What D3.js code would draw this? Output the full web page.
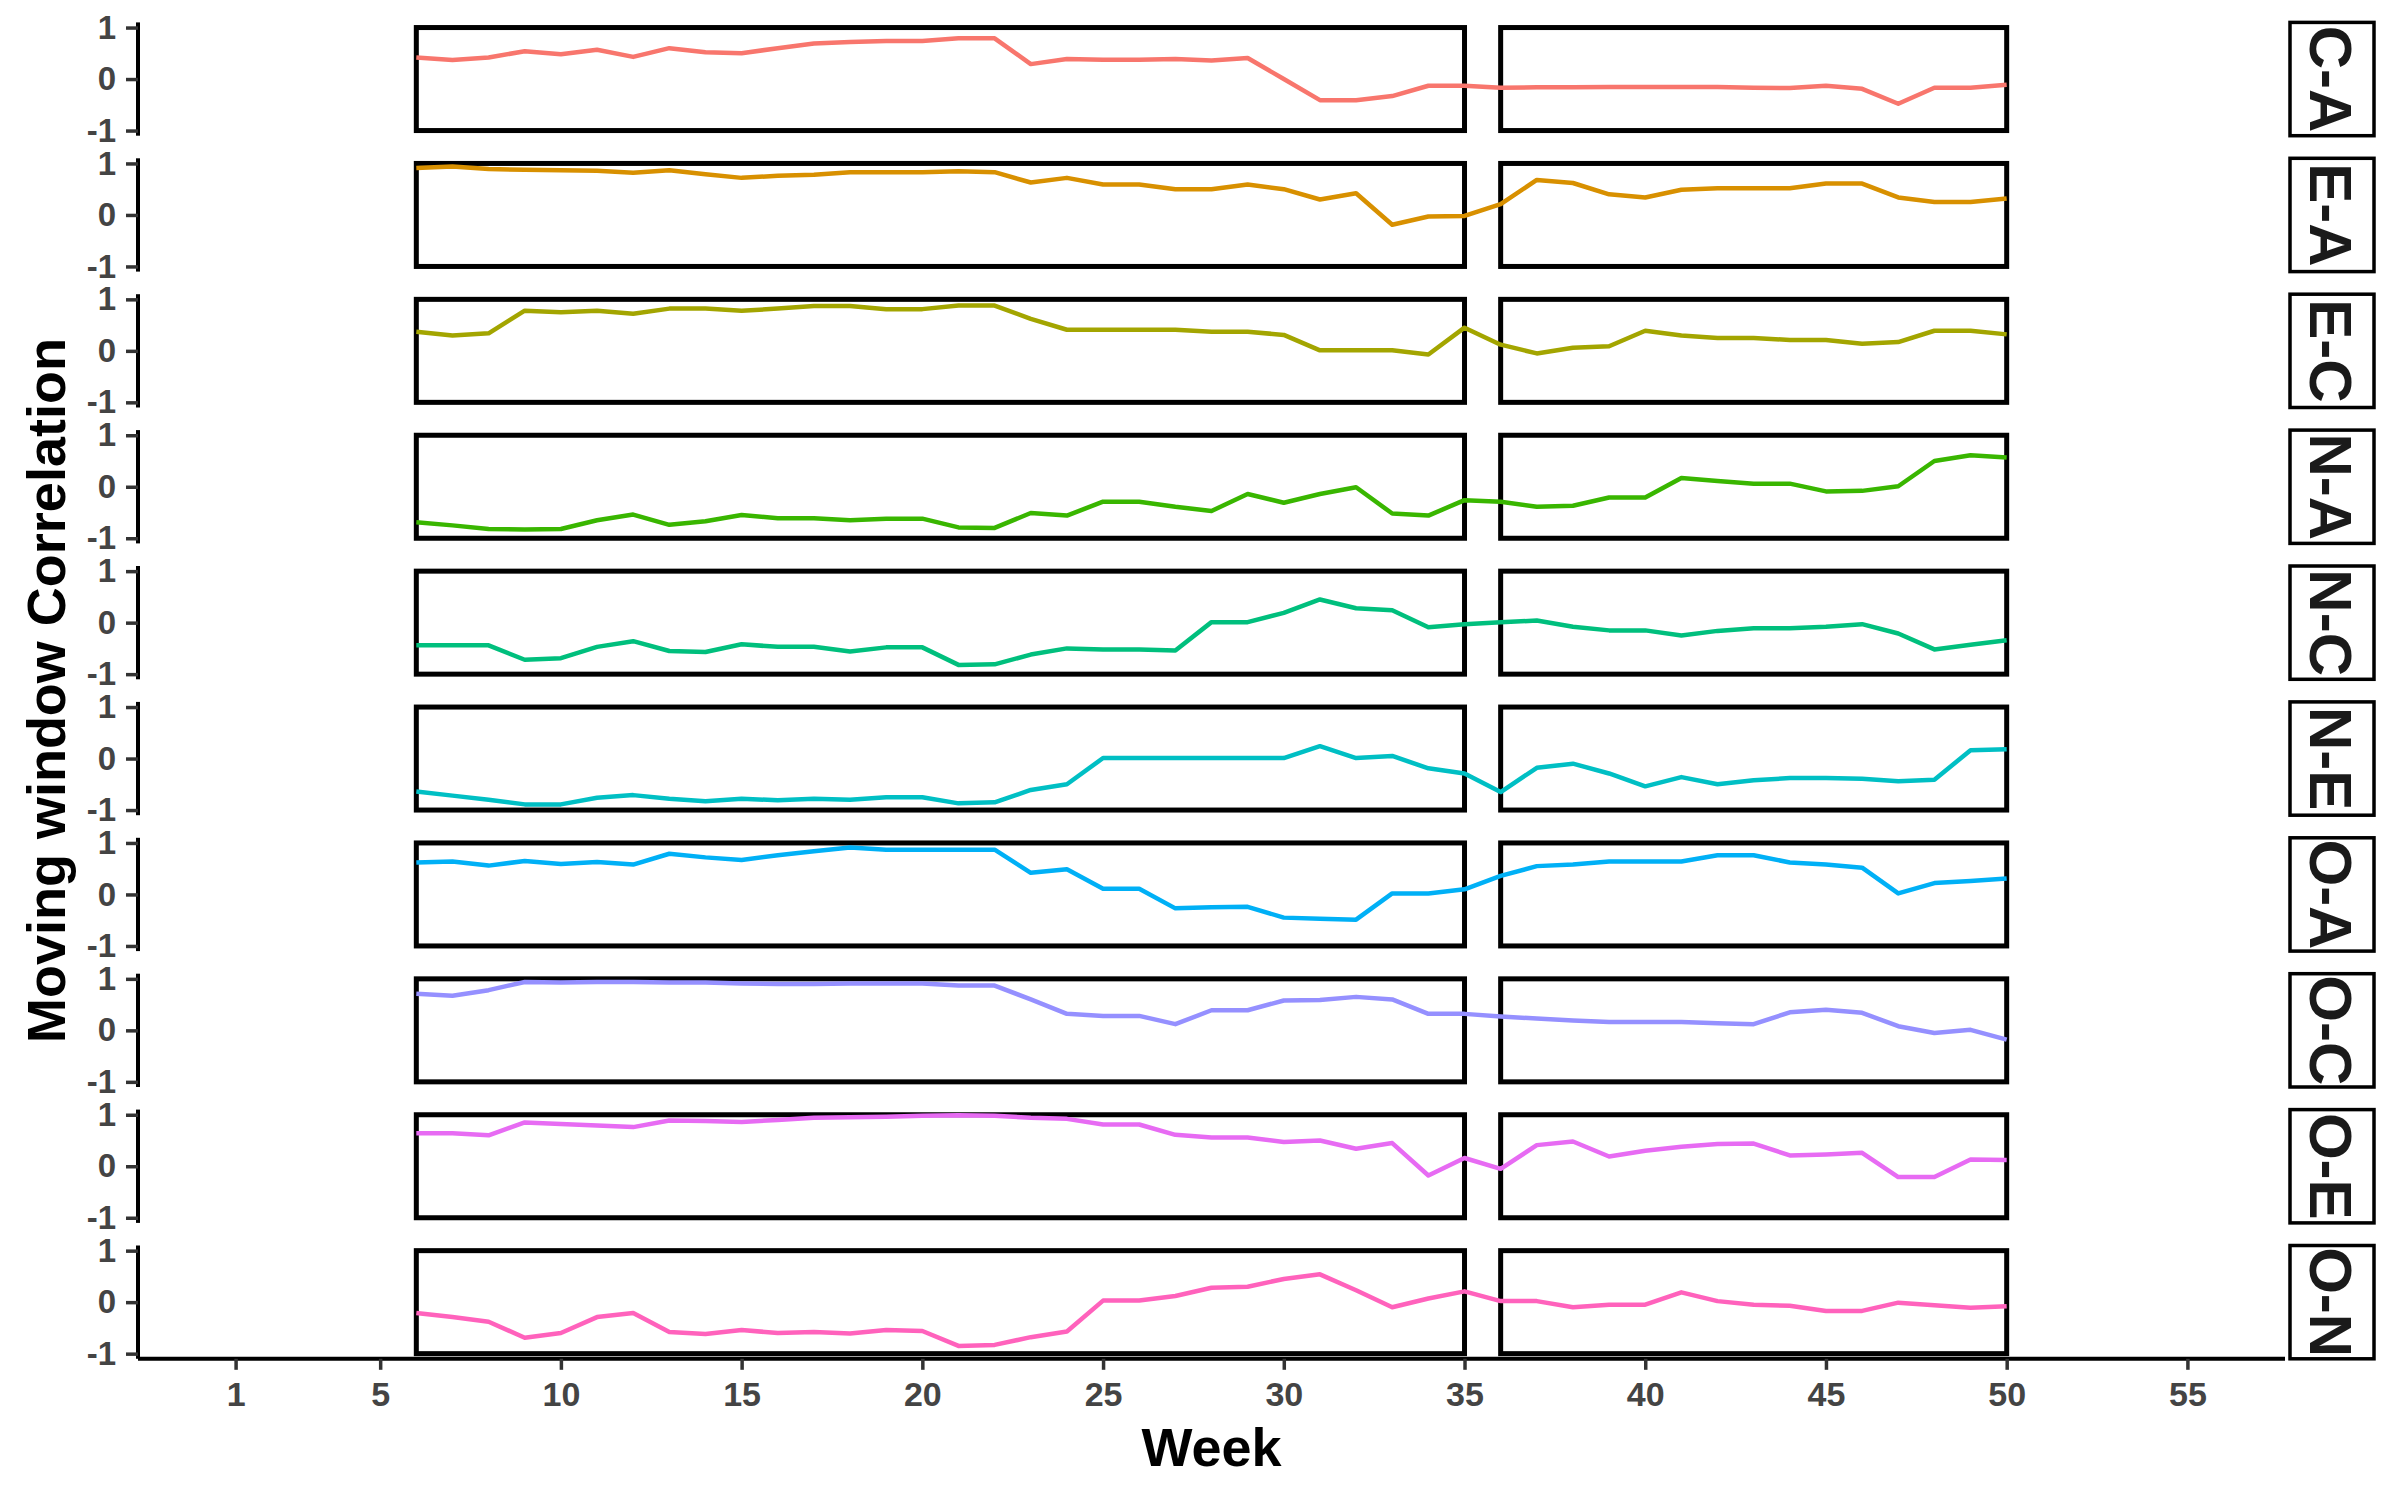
<!DOCTYPE html>
<html>
<head>
<meta charset="utf-8">
<script src="https://cdn.jsdelivr.net/npm/d3@7"></script>
<style>
  body { margin: 0; background: #fff; }
  text { font-family: "Liberation Sans", Arial, sans-serif; font-weight: bold; }
</style>
</head>
<body>
<svg id="chart"></svg>
<script>
// data
const pairs = ['C-A', 'E-A', 'E-C', 'N-A', 'N-C', 'N-E', 'O-A', 'O-C', 'O-E', 'O-N'];
const weeks = [6, 7, 8, 9, 10, 11, 12, 13, 14, 15, 16, 17, 18, 19, 20, 21, 22, 23, 24, 25, 26, 27, 28,
  29, 30, 31, 32, 33, 34, 35, 36, 37, 38, 39, 40, 41, 42, 43, 44, 45, 46, 47, 48, 49, 50];
const xBreaks = [1, 5, 10, 15, 20, 25, 30, 35, 40, 45, 50, 55];
const yBreaks = [-1, 0, 1];
const periods = [[6, 35], [36, 50]];
const colors = ['#F8766D', '#D89000', '#A3A500', '#39B600', '#00BF7D', '#00BFC4', '#00B0F6', '#9590FF', '#E76BF3', '#FF62BC'];

const corrCA = [0.42, 0.37, 0.42, 0.54, 0.48, 0.57, 0.43, 0.60, 0.52, 0.50, 0.60, 0.69, 0.72, 0.74, 0.74, 0.79, 0.79,
  0.29, 0.39, 0.375, 0.375, 0.39, 0.36, 0.41, 0.0, -0.41, -0.41, -0.33, -0.13, -0.13,
  -0.17, -0.16, -0.16, -0.155, -0.155, -0.155, -0.155, -0.17, -0.175, -0.13, -0.19, -0.48, -0.17, -0.17, -0.11];
const corrEA = [0.91, 0.94, 0.89, 0.88, 0.87, 0.86, 0.82, 0.87, 0.79, 0.72, 0.76, 0.78, 0.83, 0.83, 0.83, 0.85, 0.83,
  0.63, 0.72, 0.59, 0.59, 0.50, 0.50, 0.59, 0.50, 0.30, 0.42, -0.19, -0.03, -0.02,
  0.21, 0.68, 0.62, 0.40, 0.34, 0.49, 0.52, 0.52, 0.52, 0.61, 0.61, 0.34, 0.25, 0.25, 0.32];
const corrEC = [0.37, 0.30, 0.34, 0.78, 0.75, 0.78, 0.72, 0.82, 0.82, 0.78, 0.82, 0.87, 0.87, 0.81, 0.81, 0.88, 0.88,
  0.62, 0.41, 0.41, 0.41, 0.41, 0.37, 0.37, 0.31, 0.01, 0.01, 0.01, -0.07, 0.45,
  0.12, -0.05, 0.06, 0.09, 0.39, 0.30, 0.25, 0.25, 0.21, 0.21, 0.14, 0.17, 0.39, 0.39, 0.32];
const corrNA = [-0.69, -0.75, -0.82, -0.83, -0.82, -0.65, -0.54, -0.74, -0.67, -0.55, -0.61, -0.61, -0.65, -0.62, -0.62, -0.79, -0.80,
  -0.51, -0.56, -0.29, -0.29, -0.39, -0.47, -0.14, -0.31, -0.14, -0.01, -0.52, -0.56, -0.26,
  -0.29, -0.39, -0.37, -0.21, -0.21, 0.17, 0.11, 0.06, 0.06, -0.09, -0.08, 0.01, 0.50, 0.61, 0.57];
const corrNC = [-0.44, -0.44, -0.44, -0.72, -0.69, -0.47, -0.36, -0.55, -0.57, -0.42, -0.47, -0.47, -0.56, -0.48, -0.48, -0.82, -0.81,
  -0.62, -0.50, -0.52, -0.52, -0.54, 0.01, 0.01, 0.19, 0.45, 0.28, 0.24, -0.09, -0.03,
  0.01, 0.04, -0.08, -0.15, -0.15, -0.25, -0.16, -0.11, -0.11, -0.08, -0.03, -0.21, -0.52, -0.43, -0.34];
const corrNE = [-0.64, -0.72, -0.80, -0.89, -0.89, -0.76, -0.71, -0.78, -0.83, -0.78, -0.81, -0.78, -0.80, -0.75, -0.75, -0.87, -0.85,
  -0.61, -0.50, 0.01, 0.01, 0.01, 0.01, 0.01, 0.01, 0.24, 0.01, 0.05, -0.19, -0.29,
  -0.65, -0.18, -0.10, -0.29, -0.54, -0.36, -0.50, -0.42, -0.38, -0.38, -0.39, -0.44, -0.41, 0.16, 0.18];
const corrOA = [0.62, 0.64, 0.56, 0.65, 0.59, 0.63, 0.58, 0.79, 0.72, 0.67, 0.76, 0.84, 0.91, 0.87, 0.87, 0.87, 0.87,
  0.42, 0.49, 0.11, 0.11, -0.27, -0.25, -0.24, -0.45, -0.47, -0.49, 0.02, 0.02, 0.10,
  0.36, 0.55, 0.58, 0.64, 0.64, 0.64, 0.76, 0.76, 0.62, 0.58, 0.52, 0.02, 0.22, 0.26, 0.31];
const corrOC = [0.71, 0.67, 0.78, 0.94, 0.93, 0.94, 0.94, 0.93, 0.93, 0.91, 0.90, 0.90, 0.91, 0.91, 0.91, 0.87, 0.87,
  0.60, 0.32, 0.28, 0.28, 0.12, 0.39, 0.39, 0.58, 0.59, 0.65, 0.60, 0.32, 0.32,
  0.27, 0.23, 0.19, 0.16, 0.16, 0.16, 0.14, 0.12, 0.35, 0.40, 0.34, 0.08, -0.05, 0.01, -0.18];
const corrOE = [0.64, 0.64, 0.60, 0.85, 0.82, 0.79, 0.76, 0.89, 0.88, 0.86, 0.90, 0.94, 0.95, 0.96, 0.98, 0.99, 0.98,
  0.94, 0.92, 0.81, 0.81, 0.61, 0.56, 0.56, 0.47, 0.50, 0.34, 0.45, -0.18, 0.16,
  -0.05, 0.41, 0.48, 0.19, 0.30, 0.38, 0.43, 0.44, 0.21, 0.23, 0.26, -0.21, -0.21, 0.13, 0.12];
const corrON = [-0.21, -0.29, -0.38, -0.69, -0.60, -0.29, -0.21, -0.58, -0.62, -0.54, -0.60, -0.58, -0.61, -0.54, -0.56, -0.85, -0.83,
  -0.68, -0.57, 0.03, 0.03, 0.12, 0.28, 0.30, 0.45, 0.54, 0.23, -0.10, 0.07, 0.21,
  0.02, 0.02, -0.10, -0.05, -0.05, 0.19, 0.02, -0.05, -0.07, -0.17, -0.17, -0.01, -0.06, -0.11, -0.08];

const series = [corrCA, corrEA, corrEC, corrNA, corrNC, corrNE, corrOA, corrOC, corrOE, corrON];

// layout
const W = 2400, H = 1500;
const plot = {l: 138, r: 2285};
const panelTop = 22.4, panelH = 113.3, panelStep = 135.9;
const strip = {x: 2290, w: 84};

const svg = d3.select('svg#chart')
    .attr('width', W)
    .attr('height', H);

const x = d3.scaleLinear()
    .domain([1 - 54 * 0.05, 55 + 54 * 0.05])
    .range([plot.l, plot.r]);

const line = d3.line()
    .x(d => x(d.week))
    .y(d => d.y);

pairs.forEach((pair, i) => {
    const top = panelTop + i * panelStep;
    const y = d3.scaleLinear()
        .domain([-1.1, 1.1])
        .range([top + panelH, top]);

    const g = svg.append('g');

    // period boxes
    g.selectAll('rect.period')
        .data(periods)
        .join('rect')
        .attr('class', 'period')
        .attr('x', d => x(d[0]))
        .attr('y', y(1))
        .attr('width', d => x(d[1]) - x(d[0]))
        .attr('height', y(-1) - y(1))
        .attr('fill', 'none')
        .attr('stroke', '#000')
        .attr('stroke-width', 5);

    // correlation line
    const pts = weeks.map((w, j) => ({week: w, y: y(series[i][j])}));
    g.append('path')
        .datum(pts)
        .attr('d', line)
        .attr('fill', 'none')
        .attr('stroke', colors[i])
        .attr('stroke-width', 4.5)
        .attr('stroke-linejoin', 'round');

    // y axis
    const yAxis = g.append('g')
        .attr('transform', `translate(${plot.l},0)`)
        .call(d3.axisLeft(y).tickValues(yBreaks).tickSize(12).tickPadding(10).tickFormat(d3.format('d')));
    yAxis.select('.domain')
        .attr('d', `M0,${top}V${top + panelH}`)
        .attr('stroke', '#000')
        .attr('stroke-width', 4);
    yAxis.selectAll('.tick line').attr('stroke', '#333').attr('stroke-width', 3.5);
    yAxis.selectAll('.tick text')
        .attr('fill', '#444')
        .style('font-size', '33px')
        .text(d => d < 0 ? '-' + Math.abs(d) : d);

    // strip label
    const clipId = 'strip-clip-' + i;
    svg.append('clipPath').attr('id', clipId)
        .append('rect')
        .attr('x', strip.x).attr('y', top)
        .attr('width', strip.w).attr('height', panelH);
    g.append('rect')
        .attr('x', strip.x).attr('y', top)
        .attr('width', strip.w).attr('height', panelH)
        .attr('fill', '#fff')
        .attr('stroke', '#000')
        .attr('stroke-width', 3.5);
    g.append('g')
        .attr('clip-path', `url(#${clipId})`)
        .append('text')
        .attr('transform', `translate(${strip.x + strip.w / 2},${top + panelH / 2}) rotate(90)`)
        .attr('text-anchor', 'middle')
        .attr('dy', '0.36em')
        .attr('fill', '#1A1A1A')
        .style('font-size', '60px')
        .text(pair);
});

// x axis
const bottom = panelTop + 9 * panelStep + panelH;
const xAxis = svg.append('g')
    .attr('transform', `translate(0,${bottom})`)
    .call(d3.axisBottom(x).tickValues(xBreaks).tickSize(11).tickPadding(12));
xAxis.select('.domain')
    .attr('d', `M${plot.l},0H${plot.r}`)
    .attr('stroke', '#000')
    .attr('stroke-width', 4);
xAxis.selectAll('.tick line').attr('stroke', '#333').attr('stroke-width', 3.5);
xAxis.selectAll('.tick text')
    .attr('fill', '#444')
    .style('font-size', '34px');

// titles
svg.append('text')
    .attr('x', (plot.l + plot.r) / 2)
    .attr('y', 1466)
    .attr('text-anchor', 'middle')
    .attr('fill', '#000')
    .style('font-size', '54px')
    .text('Week');

svg.append('text')
    .attr('transform', `translate(46,${(panelTop + bottom) / 2}) rotate(-90)`)
    .attr('text-anchor', 'middle')
    .attr('dy', '0.36em')
    .attr('fill', '#000')
    .style('font-size', '54px')
    .text('Moving window Correlation');
</script>
</body>
</html>
